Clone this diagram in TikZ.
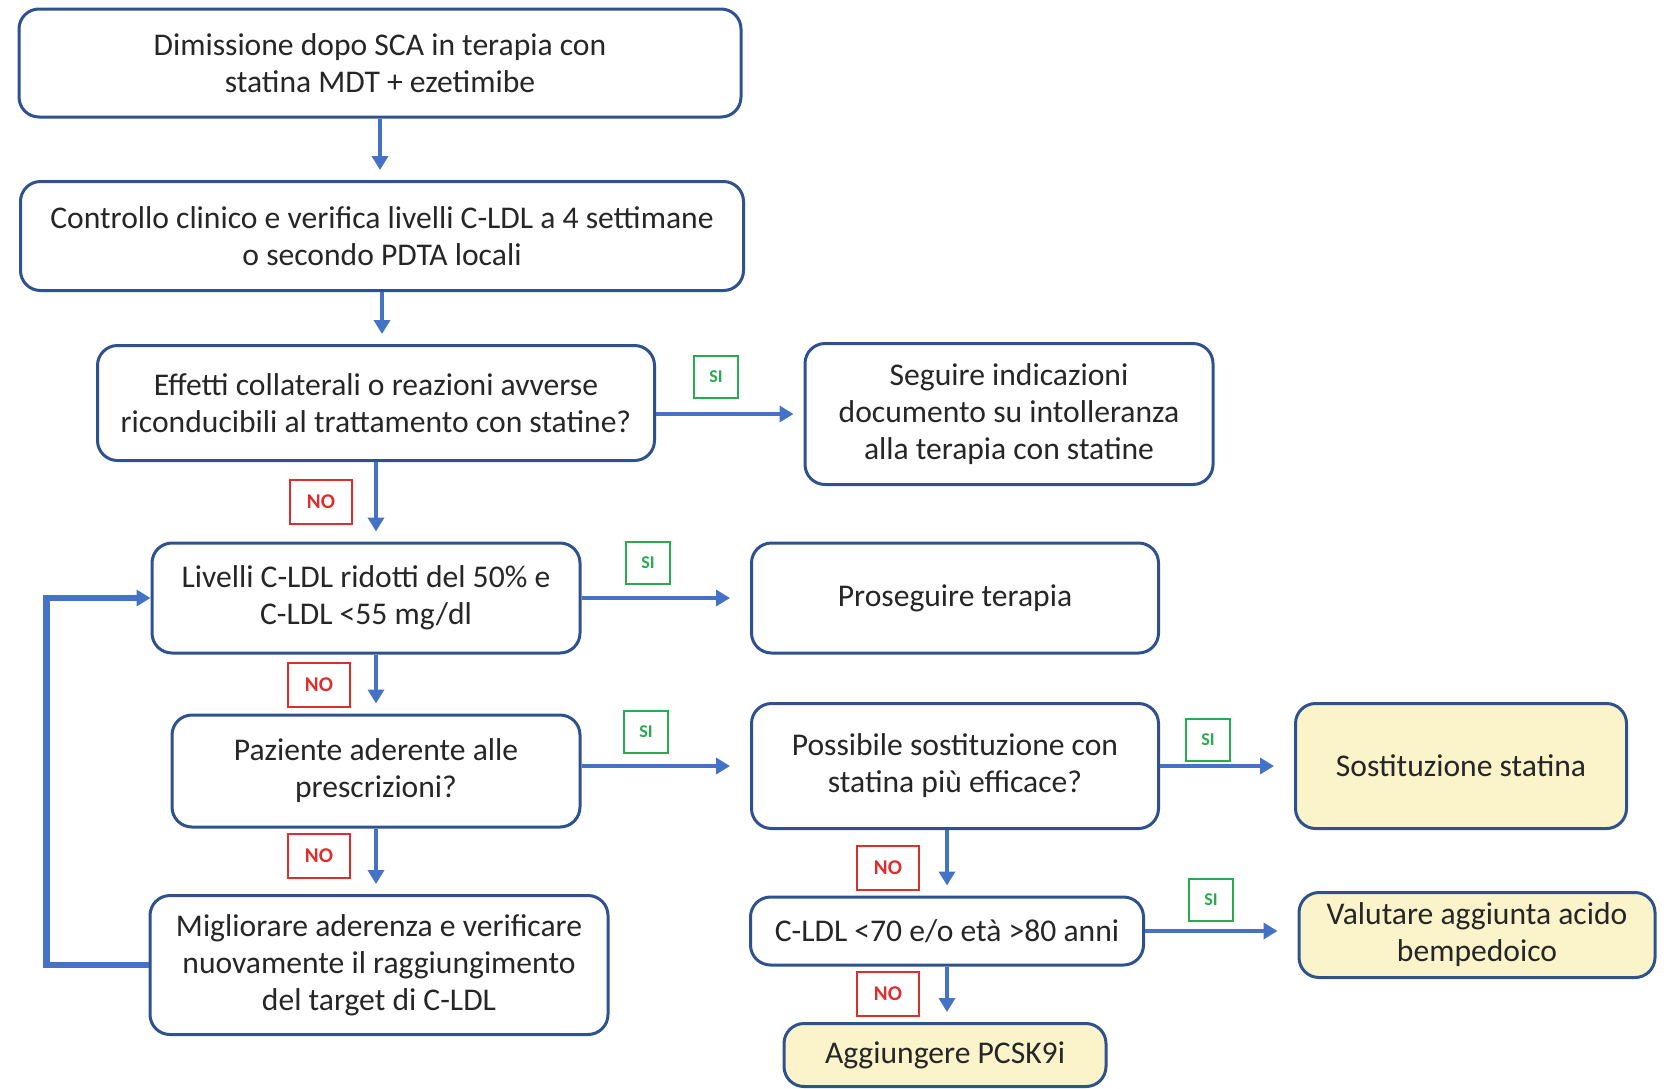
\documentclass[tikz,border=0pt]{standalone}
\usepackage{fontspec}
\setmainfont{Carlito}
\usetikzlibrary{arrows.meta,positioning}
\definecolor{boxblue}{RGB}{47,82,143}
\definecolor{arrowblue}{RGB}{68,114,196}
\definecolor{lightyellow}{RGB}{251,243,202}
\definecolor{sigreen}{RGB}{40,170,80}
\definecolor{nored}{RGB}{222,45,45}
\tikzset{
  stepbox/.style={draw=boxblue, rounded corners=10pt, line width=1.5pt,
    fill=white, text=black!85, align=center, inner sep=0pt,
    font=\fontsize{15.8}{18.5}\selectfont},
  endbox/.style={stepbox, fill=lightyellow},
  flow/.style={-{Triangle[length=7pt,width=8pt]}, line width=2pt,
    draw=arrowblue, shorten >=5pt},
  longflow/.style={flow, shorten >=10pt},
  loopflow/.style={flow, line width=3.2pt, shorten >=0pt},
  silabel/.style={draw=sigreen, line width=1.3pt, text=sigreen, fill=white,
    font=\fontsize{9}{9}\selectfont\bfseries, minimum width=22pt,
    minimum height=21pt, inner sep=0pt},
  nolabel/.style={draw=nored, line width=1.3pt, text=nored, fill=white,
    font=\fontsize{10.5}{10.5}\selectfont\bfseries, minimum width=31pt,
    minimum height=22pt, inner sep=0pt}
}

\begin{document}
\begin{tikzpicture}
\useasboundingbox (0pt,0pt) rectangle (834pt,-544pt);

% left column
\node[stepbox, minimum width=361pt, minimum height=54pt] (dimissione) at (190pt,-31.5pt)
{Dimissione dopo SCA in terapia con\\statina MDT + ezetimibe};
\node[stepbox, minimum width=361.5pt, minimum height=54.5pt] (controllo) at (191pt,-118pt)
{Controllo clinico e verifica livelli C-LDL a 4 settimane\\o secondo PDTA locali};
\node[stepbox, minimum width=278.5pt, minimum height=57.5pt] (effetti) at (188pt,-201.5pt)
{Effetti collaterali o reazioni avverse\\riconducibili al trattamento con statine?};
\node[stepbox, minimum width=214pt, minimum height=55pt] (livelli) at (183pt,-299pt)
{Livelli C-LDL ridotti del 50\% e\\C-LDL <55 mg/dl};
\node[stepbox, minimum width=204pt, minimum height=56pt] (paziente) at (188pt,-385.5pt)
{Paziente aderente alle\\prescrizioni?};
\node[stepbox, minimum width=229pt, minimum height=69.5pt] (migliorare) at (189.5pt,-482.5pt)
{Migliorare aderenza e verificare\\nuovamente il raggiungimento\\del target di C-LDL};

% right columns
\node[stepbox, minimum width=204pt, minimum height=70.5pt] (seguire) at (504.5pt,-207pt)
{Seguire indicazioni\\documento su intolleranza\\alla terapia con statine};
\node[stepbox, minimum width=203.5pt, minimum height=55pt] (proseguire) at (477.5pt,-299pt)
{Proseguire terapia};
\node[stepbox, minimum width=203.5pt, minimum height=62.5pt] (possibile) at (477.5pt,-383pt)
{Possibile sostituzione con\\statina più efficace?};
\node[endbox, minimum width=165.5pt, minimum height=62.5pt] (sostituzione) at (730.5pt,-383pt)
{Sostituzione statina};
\node[stepbox, minimum width=196.5pt, minimum height=34pt] (cldl) at (473.5pt,-465.5pt)
{C-LDL <70 e/o età >80 anni};
\node[endbox, minimum width=178pt, minimum height=42.5pt] (valutare) at (738.5pt,-467.5pt)
{Valutare aggiunta acido\\bempedoico};
\node[endbox, minimum width=161pt, minimum height=31.5pt] (aggiungere) at (472.5pt,-527.5pt)
{Aggiungere PCSK9i};

% connectors
\draw[flow] (dimissione.south) -- (dimissione.south |- controllo.north);
\draw[flow] (controllo.south) -- (controllo.south |- effetti.north);
\draw[flow] (effetti.south) -- (effetti.south |- livelli.north);
\draw[flow] (paziente.north |- livelli.south) -- (paziente.north);
\draw[flow] (paziente.south) -- (paziente.south |- migliorare.north);
\draw[flow] (effetti.east |- seguire) -- (seguire.west);
\draw[longflow] (livelli.east) -- (proseguire.west);
\draw[longflow] (paziente.east |- possibile) -- (possibile.west);
\draw[longflow] (possibile.east) -- (sostituzione.west);
\draw[flow] (possibile.south -| cldl) -- (cldl.north);
\draw[flow] (cldl.south) -- (cldl.south |- aggiungere.north);
\draw[longflow] (cldl.east) -- (cldl.east -| valutare.west);
\draw[loopflow] (migliorare.west) -- ++(-51pt,0pt) |- (livelli.west);

% SI / NO labels
\node[silabel] (si1) at (358pt,-188.5pt) {SI};
\node[silabel] (si2) at (324pt,-281.5pt) {SI};
\node[silabel] (si3) at (323pt,-366pt) {SI};
\node[silabel] (si4) at (604pt,-370pt) {SI};
\node[silabel] (si5) at (605.5pt,-450pt) {SI};
\node[nolabel] (no1) at (160.5pt,-251pt) {NO};
\node[nolabel] (no2) at (159.5pt,-342.5pt) {NO};
\node[nolabel] (no3) at (159.5pt,-428pt) {NO};
\node[nolabel] (no4) at (444pt,-434pt) {NO};
\node[nolabel] (no5) at (444pt,-497pt) {NO};
\end{tikzpicture}
\end{document}
